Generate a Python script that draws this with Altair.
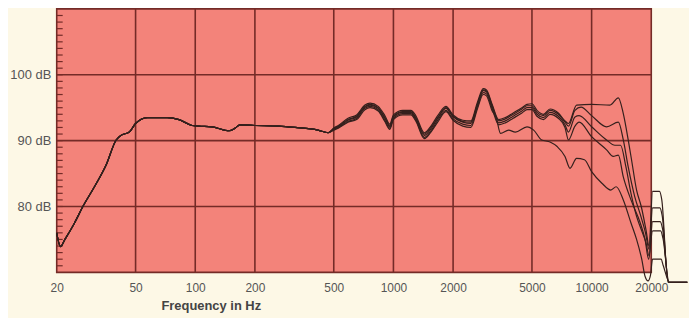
import altair as alt
import pandas as pd

# ---- data ----
freq_low = [20, 20.9, 22, 24.6, 27.1, 31, 35.5, 39.9, 42.2, 46.5, 50, 57.4, 72.4, 82.8,
            96.4, 104, 121, 148, 159, 168, 200, 263, 319, 416, 468]
db_low = [76.0, 73.9, 75.0, 77.5, 80.0, 83.0, 86.3, 90.1, 90.8, 91.3, 92.6, 93.5, 93.5, 93.2,
          92.3, 92.2, 92.1, 91.5, 91.9, 92.4, 92.3, 92.2, 92.0, 91.6, 91.2]

freq_mid = [500, 527, 590, 652, 718, 762, 838, 905, 959, 1000, 1115, 1226, 1296, 1432,
            1546, 1672, 1840, 2000, 2238, 2458, 2652, 2840, 2948, 3150]
db_mid_a = [91.9, 92.3, 93.4, 93.9, 95.4, 95.7, 95.2, 93.8, 92.5, 93.9, 94.6, 94.6, 93.8, 91.2,
            92.2, 93.8, 95.2, 93.9, 93.1, 93.0, 95.8, 97.9, 97.7, 95.5]
db_mid_b = [91.8, 92.2, 93.2, 93.7, 95.2, 95.5, 95.0, 93.5, 92.3, 93.7, 94.4, 94.4, 93.5, 91.0,
            92.0, 93.5, 95.0, 93.7, 92.9, 92.8, 95.5, 97.7, 97.5, 95.3]
db_mid_c = [91.8, 92.1, 93.1, 93.6, 95.1, 95.4, 94.9, 93.4, 92.1, 93.6, 94.3, 94.3, 93.4, 90.8,
            91.8, 93.4, 94.9, 93.6, 92.8, 92.6, 95.4, 97.6, 97.4, 95.1]
db_mid_d = [91.7, 92.0, 92.9, 93.4, 94.9, 95.2, 94.7, 93.1, 91.9, 93.4, 94.1, 94.1, 93.2, 90.5,
            91.5, 93.1, 94.6, 93.3, 92.5, 92.3, 95.1, 97.3, 97.1, 94.8]
db_mid_e = [91.6, 91.9, 92.8, 93.2, 94.7, 95.0, 94.5, 92.9, 91.7, 93.2, 93.9, 93.9, 93.0, 90.3,
            91.3, 92.8, 94.4, 93.1, 92.2, 92.0, 94.8, 97.0, 96.8, 94.5]

freq_hi = [3400, 3670, 4020, 4450, 4720, 5000, 5300, 5720, 6170, 6790, 7340, 7640]
db_hi_a = [93.2, 93.5, 94.2, 95.0, 95.5, 95.6, 94.6, 94.0, 94.8, 94.2, 93.0, 92.6]
db_hi_b = [93.0, 93.3, 94.0, 94.8, 95.3, 95.3, 94.3, 93.8, 94.6, 94.0, 92.8, 92.2]
db_hi_c = [92.7, 93.0, 93.7, 94.5, 95.0, 95.0, 94.0, 93.5, 94.3, 93.7, 92.4, 91.3]
db_hi_d = [92.4, 92.7, 93.4, 94.2, 94.7, 94.7, 93.7, 93.2, 94.0, 93.4, 92.0, 90.1]

freq_tail_a = [8400, 10000, 12380, 13640, 14450, 15300, 15900, 16860, 17800, 18800, 19500,
               20300, 22000, 22600, 24300, 30400]
db_tail_a = [95.4, 95.5, 95.4, 96.5, 94.1, 90.1, 87.1, 82.5, 80.0, 76.5, 74.0,
             82.3, 82.3, 81.0, 68.5, 68.5]
freq_tail_b = [8240, 8840, 10000, 11900, 13640, 14450, 15300, 16500, 17600, 18700, 19500,
               20300, 22100, 22700, 24400, 30400]
db_tail_b = [94.6, 95.1, 93.8, 92.1, 92.8, 90.1, 86.0, 81.5, 78.8, 76.0, 73.5,
             79.8, 79.8, 78.6, 68.5, 68.5]
freq_tail_c = [8240, 8650, 10000, 11900, 13100, 14000, 14900, 15800, 16860, 17800, 18800,
               19500, 20300, 22200, 22800, 24500, 30400]
db_tail_c = [93.6, 93.8, 92.1, 90.1, 89.3, 89.3, 86.0, 82.0, 78.5, 76.5, 74.5,
             72.5, 77.7, 77.7, 76.6, 68.5, 68.5]
freq_tail_d = [8240, 8650, 10000, 11900, 12850, 13640, 14450, 15800, 17600, 18600, 19400,
               20300, 22300, 22900, 24600, 30400]
db_tail_d = [92.2, 92.8, 90.6, 88.6, 87.6, 87.8, 84.5, 81.0, 77.5, 75.0, 72.0,
             76.3, 76.3, 75.2, 68.5, 68.5]
freq_tail_e = [3300, 3470, 3814, 4120, 4720, 5100, 5600, 6170, 6700, 7340, 7780, 8400, 9200,
               10000, 11300, 12500, 13300, 14450, 15800, 16860, 17900, 18600, 19260, 19800,
               20300, 22400, 23000, 24700, 30400]
db_tail_e = [93.5, 91.1, 91.6, 91.3, 92.1, 91.6, 90.1, 89.8, 89.1, 87.6, 85.8, 87.3, 87.1,
             85.3, 83.5, 82.5, 83.0, 81.0, 77.5, 75.0, 72.0, 69.4, 68.7, 69.5,
             72.0, 72.0, 71.0, 68.5, 68.5]

x_tick_values = [20, 50, 100, 200, 500, 1000, 2000, 5000, 10000, 20000]
x_grid_values = [50, 100, 200, 500, 1000, 2000, 5000, 10000]
y_tick_values = [80, 90, 100]
y_minor_values = list(range(71, 110))

# ---- build tables ----
curves = {
    "A": (freq_low + freq_mid + freq_hi + freq_tail_a, db_low + db_mid_a + db_hi_a + db_tail_a),
    "B": (freq_low + freq_mid + freq_hi + freq_tail_b, db_low + db_mid_b + db_hi_b + db_tail_b),
    "C": (freq_low + freq_mid + freq_hi + freq_tail_c, db_low + db_mid_c + db_hi_c + db_tail_c),
    "D": (freq_low + freq_mid + freq_hi + freq_tail_d, db_low + db_mid_d + db_hi_d + db_tail_d),
    "E": (freq_low + freq_mid + freq_tail_e, db_low + db_mid_e + db_tail_e),
}
rows = []
for name, (fs, ds) in curves.items():
    for i, (f, d) in enumerate(zip(fs, ds)):
        rows.append({"series": name, "freq": f, "db": d, "idx": i})
lines_df = pd.DataFrame(rows)

bg_df = pd.DataFrame({"f": [20], "f2": [20000], "d": [70], "d2": [110]})
vgrid_df = pd.DataFrame({"f": x_grid_values, "d": [70] * len(x_grid_values), "d2": [110] * len(x_grid_values)})
hgrid_df = pd.DataFrame({"d": y_tick_values, "f": [20] * 3, "f2": [20000] * 3})
minor_df = pd.DataFrame({"d": y_minor_values})

# ---- scales / axes ----
GRID = "#742b27"
LINE = "#35201d"
xscale = alt.Scale(type="log", domain=[20, 31000], nice=False)
yscale = alt.Scale(domain=[70, 110], nice=False, zero=False)
xaxis = alt.Axis(values=x_tick_values, format="d", grid=False, ticks=False, domain=False,
                 labelFont="Liberation Sans", labelFontSize=12, labelColor="#555555",
                 labelPadding=10, labelFlush=False,
                 title="Frequency in Hz", titleFont="Liberation Sans", titleFontSize=13,
                 titleFontWeight="bold", titleColor="#444444", titleX=155, titleY=37,
                 titleAlign="center", titleBaseline="alphabetic")
yaxis = alt.Axis(values=y_tick_values, labelExpr="datum.value + ' dB'", grid=False,
                 ticks=False, domain=False, labelFont="Liberation Sans", labelFontSize=13,
                 labelColor="#555555", labelPadding=6, title=None)


def X(field):
    return alt.X(field, type="quantitative", scale=xscale, axis=xaxis)


def Y(field):
    return alt.Y(field, type="quantitative", scale=yscale, axis=yaxis)


bg = alt.Chart(bg_df).mark_rect(fill="#f3837a").encode(
    x=X("f"), x2="f2", y=Y("d"), y2="d2")
vgrid = alt.Chart(vgrid_df).mark_rule(color=GRID, strokeWidth=1.6).encode(
    x=X("f"), y=Y("d"), y2="d2")
hgrid = alt.Chart(hgrid_df).mark_rule(color=GRID, strokeWidth=1.6).encode(
    y=Y("d"), x=X("f"), x2="f2")
minor = alt.Chart(minor_df).mark_rule(color=GRID, strokeWidth=1.2).encode(
    y=Y("d"), x=alt.value(0), x2=alt.value(6))
border = alt.Chart(bg_df).mark_rect(fill=None, stroke=GRID, strokeWidth=1.6).encode(
    x=X("f"), x2="f2", y=Y("d"), y2="d2")
lines = alt.Chart(lines_df).mark_line(color=LINE, strokeWidth=1.2, interpolate="monotone").encode(
    x=X("freq"), y=Y("db"), detail="series:N", order="idx:Q")

chart = alt.layer(bg, vgrid, hgrid, minor, border, lines).properties(
    width=636, height=265,
    autosize=alt.AutoSizeParams(type="none"),
    padding={"left": 49, "top": 0, "right": 0, "bottom": 45},
    background="#fdf8e6",
).configure_view(stroke=None)

chart.save("out.html", embed_options={"renderer": "svg", "actions": False})
